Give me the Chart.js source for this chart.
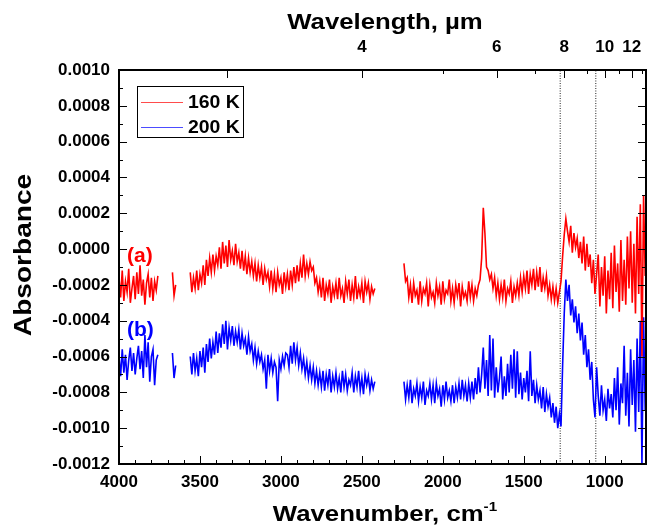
<!DOCTYPE html>
<html>
<head>
<meta charset="utf-8">
<script src="https://cdn.jsdelivr.net/npm/chart.js@4.4.1/dist/chart.umd.min.js"></script>
<style>
  html, body { margin: 0; padding: 0; background: #fff; }
  canvas { display: block; }
</style>
</head>
<body>
<canvas id="spectra" width="657" height="527"></canvas>
<script>
// wavenumber grid, cm-1: 4000 down to 750, one point every 10 (null = no data)
const waveStart = 4000;
const waveStep = 10;

// absorbance at 160 K, trace (a)
const abs160K = [
  // 4000 - 3760
  -1.6e-4, -2.7e-4, -1.2e-4, -2.9e-4, -1.8e-4, -2.4e-4, -1.1e-4, -3.0e-4, -2.2e-4, -1.5e-4,
  -2.8e-4, -1.3e-4, -2.5e-4, -0.9e-4, -2.6e-4, -1.7e-4, -3.1e-4, -1.9e-4, -1.4e-4, -2.7e-4,
  -1.6e-4, -2.9e-4, -1.8e-4, -2.3e-4, -1.5e-4,
  // 3750 - 3680
  null, null, null, null, null, null, null, null,
  // 3670 - 3650
  -1.3e-4, -2.6e-4, -2.0e-4,
  // 3640 - 3570
  null, null, null, null, null, null, null, null,
  // 3560 - 2420
  -1.3e-4, -2.4e-4, -1.6e-4, -2.2e-4, -1.2e-4, -2.3e-4, -1.4e-4, -1.9e-4, -0.9e-4, -2.0e-4,
  -0.6e-4, -1.5e-4, -0.5e-4, -1.3e-4, -0.3e-4, -1.2e-4, -0.4e-4, -0.9e-4, 0.1e-4, -1.1e-4,
  0.4e-4, -0.8e-4, 0.2e-4, -1.0e-4, 0.5e-4, -0.6e-4, -0.1e-4, -0.9e-4, 0.3e-4, -0.7e-4,
  -0.2e-4, -1.1e-4, -0.1e-4, -1.2e-4, -0.4e-4, -1.4e-4, -0.5e-4, -1.3e-4, -0.7e-4, -1.5e-4,
  -0.8e-4, -1.8e-4, -0.9e-4, -1.6e-4, -1.0e-4, -2.0e-4, -1.1e-4, -1.7e-4, -1.3e-4, -2.1e-4,
  -1.2e-4, -2.2e-4, -1.4e-4, -2.4e-4, -1.3e-4, -2.0e-4, -1.6e-4, -2.5e-4, -1.3e-4, -2.1e-4,
  -1.4e-4, -2.3e-4, -1.2e-4, -2.0e-4, -1.0e-4, -1.9e-4, -0.9e-4, -1.8e-4, -0.8e-4, -1.6e-4,
  -0.3e-4, -1.5e-4, -0.8e-4, -1.4e-4, -0.7e-4, -1.2e-4, -1.0e-4, -1.9e-4, -1.6e-4, -2.4e-4,
  -1.8e-4, -2.7e-4, -1.6e-4, -2.9e-4, -2.0e-4, -2.5e-4, -1.7e-4, -3.0e-4, -2.1e-4, -2.6e-4,
  -1.9e-4, -2.8e-4, -1.6e-4, -2.6e-4, -2.2e-4, -3.0e-4, -1.8e-4, -2.5e-4, -1.7e-4, -2.9e-4,
  -2.0e-4, -2.7e-4, -1.5e-4, -2.8e-4, -2.1e-4, -2.6e-4, -1.9e-4, -3.0e-4, -1.8e-4, -2.4e-4,
  -1.9e-4, -2.8e-4, -2.1e-4, -2.5e-4, -2.2e-4,
  // 2410 - 2250
  null, null, null, null, null, null, null, null, null, null,
  null, null, null, null, null, null, null,
  // 2240 - 750
  -0.8e-4, -1.8e-4, -1.6e-4, -2.7e-4, -2.0e-4, -3.0e-4, -1.9e-4, -2.6e-4, -2.3e-4, -3.1e-4,
  -1.8e-4, -2.9e-4, -2.2e-4, -2.5e-4, -1.9e-4, -3.2e-4, -2.0e-4, -2.7e-4, -2.4e-4, -3.0e-4,
  -1.9e-4, -2.6e-4, -2.1e-4, -3.1e-4, -1.8e-4, -2.8e-4, -2.3e-4, -2.5e-4, -1.7e-4, -2.9e-4,
  -2.2e-4, -3.0e-4, -2.0e-4, -2.6e-4, -1.9e-4, -3.2e-4, -2.1e-4, -2.7e-4, -2.4e-4, -2.9e-4,
  -1.8e-4, -2.7e-4, -2.0e-4, -2.9e-4, -2.2e-4, -2.6e-4, -2.0e-4, -1.7e-4, -0.5e-4, 2.3e-4,
  0.9e-4, -1.0e-4, -1.2e-4, -1.7e-4, -1.4e-4, -2.2e-4, -1.6e-4, -2.6e-4, -1.9e-4, -2.8e-4,
  -2.0e-4, -2.7e-4, -1.7e-4, -2.9e-4, -2.2e-4, -2.5e-4, -1.8e-4, -3.0e-4, -2.1e-4, -2.6e-4,
  -1.9e-4, -2.6e-4, -1.6e-4, -2.4e-4, -1.5e-4, -2.2e-4, -1.2e-4, -2.5e-4, -1.4e-4, -2.0e-4,
  -1.1e-4, -2.3e-4, -1.3e-4, -2.1e-4, -1.0e-4, -2.4e-4, -1.6e-4, -2.2e-4, -1.5e-4, -2.6e-4,
  -2.0e-4, -2.8e-4, -2.1e-4, -2.9e-4, -2.2e-4, -3.0e-4, -2.4e-4, -1.8e-4, -0.4e-4, 0.8e-4,
  1.7e-4, 1.0e-4, 0.4e-4, 1.3e-4, -0.2e-4, 0.9e-4, 0.1e-4, 0.6e-4, -0.5e-4, 0.4e-4,
  -0.8e-4, 0.7e-4, -1.2e-4, 0.3e-4, -1.0e-4, -0.3e-4, -1.9e-4, -0.6e-4, -2.5e-4, -1.4e-4,
  -0.3e-4, -3.2e-4, -1.0e-4, -2.6e-4, -0.4e-4, -3.6e-4, -1.2e-4, -2.8e-4, -0.2e-4, -3.3e-4,
  0.2e-4, -2.4e-4, -0.8e-4, -3.5e-4, 0.5e-4, -2.9e-4, -0.6e-4, -3.1e-4, 0.7e-4, -2.2e-4,
  1.0e-4, -3.0e-4, 0.3e-4, -3.6e-4, 1.8e-4, -2.5e-4, 2.5e-4, -6.0e-4, 3.0e-4, -1.5e-4
];

// absorbance at 200 K, trace (b)
const abs200K = [
  // 4000 - 3760
  -6.0e-4, -7.1e-4, -5.6e-4, -6.9e-4, -5.9e-4, -7.3e-4, -6.2e-4, -5.5e-4, -6.8e-4, -5.8e-4,
  -7.0e-4, -6.1e-4, -5.4e-4, -6.7e-4, -5.7e-4, -7.2e-4, -4.8e-4, -6.6e-4, -5.2e-4, -7.4e-4,
  -6.0e-4, -5.6e-4, -7.6e-4, -6.2e-4, -5.9e-4,
  // 3750 - 3680
  null, null, null, null, null, null, null, null,
  // 3670 - 3650
  -5.8e-4, -7.2e-4, -6.5e-4,
  // 3640 - 3570
  null, null, null, null, null, null, null, null,
  // 3560 - 2420
  -6.0e-4, -7.0e-4, -5.8e-4, -6.8e-4, -6.1e-4, -7.1e-4, -5.7e-4, -6.6e-4, -5.5e-4, -6.9e-4,
  -5.3e-4, -6.3e-4, -5.0e-4, -6.1e-4, -5.2e-4, -5.9e-4, -4.6e-4, -5.8e-4, -4.7e-4, -5.5e-4,
  -4.2e-4, -5.3e-4, -4.0e-4, -5.6e-4, -4.4e-4, -5.1e-4, -4.3e-4, -5.4e-4, -4.6e-4, -5.2e-4,
  -4.5e-4, -5.6e-4, -4.7e-4, -5.4e-4, -5.0e-4, -5.9e-4, -4.9e-4, -5.7e-4, -5.3e-4, -6.2e-4,
  -5.5e-4, -6.4e-4, -5.7e-4, -6.3e-4, -5.9e-4, -6.7e-4, -6.2e-4, -7.8e-4, -5.9e-4, -6.8e-4,
  -6.1e-4, -6.9e-4, -6.3e-4, -6.6e-4, -8.5e-4, -6.2e-4, -6.7e-4, -6.0e-4, -6.5e-4, -5.8e-4,
  -5.9e-4, -6.6e-4, -5.4e-4, -6.4e-4, -5.2e-4, -6.2e-4, -5.5e-4, -6.5e-4, -5.8e-4, -6.7e-4,
  -6.1e-4, -7.0e-4, -6.3e-4, -7.2e-4, -6.5e-4, -7.3e-4, -6.6e-4, -7.5e-4, -6.8e-4, -7.6e-4,
  -6.9e-4, -7.7e-4, -6.8e-4, -7.9e-4, -7.0e-4, -7.6e-4, -6.7e-4, -8.0e-4, -7.1e-4, -7.7e-4,
  -6.9e-4, -7.8e-4, -7.2e-4, -8.0e-4, -6.8e-4, -7.7e-4, -7.0e-4, -7.9e-4, -7.3e-4, -7.6e-4,
  -6.9e-4, -8.0e-4, -7.1e-4, -7.7e-4, -6.8e-4, -7.9e-4, -7.2e-4, -8.1e-4, -7.0e-4, -7.6e-4,
  -7.1e-4, -7.9e-4, -7.3e-4, -7.8e-4, -7.4e-4,
  // 2410 - 2250
  null, null, null, null, null, null, null, null, null, null,
  null, null, null, null, null, null, null,
  // 2240 - 750
  -7.4e-4, -8.4e-4, -7.6e-4, -8.3e-4, -7.3e-4, -8.6e-4, -7.8e-4, -8.2e-4, -7.5e-4, -8.5e-4,
  -7.7e-4, -8.3e-4, -7.4e-4, -8.7e-4, -7.9e-4, -8.2e-4, -7.5e-4, -8.4e-4, -7.6e-4, -8.6e-4,
  -7.5e-4, -8.2e-4, -7.8e-4, -8.8e-4, -7.6e-4, -8.4e-4, -7.4e-4, -8.3e-4, -7.9e-4, -8.5e-4,
  -7.6e-4, -8.6e-4, -7.7e-4, -8.3e-4, -7.5e-4, -8.4e-4, -7.3e-4, -8.2e-4, -7.6e-4, -8.5e-4,
  -7.5e-4, -8.3e-4, -7.4e-4, -8.4e-4, -7.2e-4, -8.1e-4, -6.6e-4, -8.0e-4, -7.0e-4, -5.5e-4,
  -7.8e-4, -6.2e-4, -8.2e-4, -4.8e-4, -7.9e-4, -5.0e-4, -8.3e-4, -6.6e-4, -8.0e-4, -7.2e-4,
  -6.0e-4, -8.4e-4, -7.1e-4, -8.2e-4, -6.4e-4, -8.0e-4, -5.9e-4, -7.8e-4, -5.6e-4, -8.3e-4,
  -5.7e-4, -8.1e-4, -6.9e-4, -8.4e-4, -7.2e-4, -8.0e-4, -6.8e-4, -8.5e-4, -5.7e-4, -8.2e-4,
  -7.3e-4, -8.6e-4, -7.6e-4, -8.4e-4, -7.9e-4, -8.9e-4, -7.7e-4, -9.1e-4, -8.1e-4, -8.8e-4,
  -8.3e-4, -9.4e-4, -8.6e-4, -9.7e-4, -8.8e-4, -10.0e-4, -9.2e-4, -9.9e-4, -6.5e-4, -3.6e-4,
  -1.7e-4, -2.9e-4, -2.0e-4, -3.7e-4, -2.8e-4, -4.1e-4, -3.2e-4, -4.7e-4, -3.6e-4, -5.1e-4,
  -4.1e-4, -5.9e-4, -4.8e-4, -6.6e-4, -5.6e-4, -7.3e-4, -6.3e-4, -8.4e-4, -9.4e-4, -6.6e-4,
  -8.2e-4, -9.3e-4, -7.6e-4, -9.0e-4, -8.4e-4, -9.6e-4, -7.8e-4, -8.9e-4, -8.1e-4, -9.4e-4,
  -7.2e-4, -9.0e-4, -6.6e-4, -9.8e-4, -7.5e-4, -8.6e-4, -5.4e-4, -9.3e-4, -6.9e-4, -9.9e-4,
  -5.6e-4, -8.7e-4, -6.2e-4, -10.2e-4, -5.0e-4, -9.1e-4, -4.0e-4, -12.0e-4, -3.8e-4, -9.0e-4
];

const seriesNames = ['160 K', '200 K'];
const seriesColors = ['#ff0000', '#0000ff'];
const traceTags = ['(a)', '(b)'];
const markerWavenumbers = [1275, 1055];          // dotted vertical lines
const wavelengthTicks = [3, 4, 5, 6, 7, 8, 9, 10, 11, 12, 13];  // um, top axis
const wavelengthLabels = [4, 6, 8, 10, 12];

const FONT = '"Liberation Sans", Arial, sans-serif';

function toPoints(values) {
  return values.map((v, i) => ({ x: waveStart - i * waveStep, y: v }));
}

const datasets = [abs160K, abs200K].map((vals, k) => ({
  label: seriesNames[k],
  data: toPoints(vals),
  borderColor: seriesColors[k],
  borderWidth: 1.6,
  pointRadius: 0,
  tension: 0,
  spanGaps: false
}));

markerWavenumbers.forEach(w => {
  datasets.push({
    label: '',
    data: [{ x: w, y: -0.0012 }, { x: w, y: 0.0010 }],
    borderColor: '#222',
    borderWidth: 1,
    borderDash: [1, 1.5],
    pointRadius: 0
  });
});

// text drawn a bit wider than the font, like the original figure
function wideText(ctx, text, x, y, sx) {
  ctx.save();
  ctx.translate(x, y);
  ctx.scale(sx, 1);
  ctx.fillText(text, 0, 0);
  ctx.restore();
}

// inward ticks, frame, legend, titles
const decor = {
  id: 'decor',
  afterDraw(chart) {
    const { ctx, chartArea: a, scales } = chart;
    ctx.save();
    ctx.strokeStyle = '#000';
    ctx.lineWidth = 1;
    ctx.beginPath();
    scales.x.ticks.forEach(t => {
      if (t.value % 100 !== 0) return;
      const px = Math.round(scales.x.getPixelForValue(t.value)) + 0.5;
      const len = t.value % 500 === 0 ? 8 : 4;
      ctx.moveTo(px, a.bottom); ctx.lineTo(px, a.bottom - len);
    });
    scales.x2.ticks.forEach(t => {
      const l = Math.round(10000 / t.value);
      const px = Math.round(scales.x2.getPixelForValue(t.value)) + 0.5;
      const len = (wavelengthLabels.includes(l) || l === 3) ? 8 : 4;
      ctx.moveTo(px, a.top); ctx.lineTo(px, a.top + len);
    });
    const yt = scales.y.ticks.map(t => t.value);
    yt.forEach((v, i) => {
      const py = Math.round(scales.y.getPixelForValue(v)) + 0.5;
      ctx.moveTo(a.left, py); ctx.lineTo(a.left + 8, py);
      ctx.moveTo(a.right, py); ctx.lineTo(a.right - 8, py);
      if (i < yt.length - 1) {
        const pm = Math.round(scales.y.getPixelForValue((v + yt[i + 1]) / 2)) + 0.5;
        ctx.moveTo(a.left, pm); ctx.lineTo(a.left + 4, pm);
        ctx.moveTo(a.right, pm); ctx.lineTo(a.right - 4, pm);
      }
    });
    ctx.stroke();

    ctx.lineWidth = 2;
    ctx.strokeRect(a.left, a.top, a.right - a.left, a.bottom - a.top);

    // legend
    ctx.lineWidth = 1;
    ctx.strokeRect(137.5, 86.5, 106, 51);
    ctx.font = 'bold 18px ' + FONT;
    ctx.textBaseline = 'middle';
    ctx.textAlign = 'left';
    seriesNames.forEach((name, k) => {
      const y = 102 + k * 25;
      ctx.strokeStyle = seriesColors[k];
      ctx.globalAlpha = 0.7;
      ctx.beginPath(); ctx.moveTo(141, y + 0.5); ctx.lineTo(183, y + 0.5); ctx.stroke();
      ctx.globalAlpha = 1;
      ctx.fillStyle = '#000';
      wideText(ctx, name, 188, y + 1, 1.08);
    });

    // trace tags
    ctx.font = 'bold 21px ' + FONT;
    traceTags.forEach((tag, k) => {
      ctx.fillStyle = seriesColors[k];
      ctx.fillText(tag, 127, k === 0 ? 256 : 330);
    });

    // axis titles
    const sx = 1.17;
    ctx.fillStyle = '#000';
    ctx.textBaseline = 'alphabetic';
    ctx.textAlign = 'left';
    ctx.font = 'bold 22px ' + FONT;
    const top = 'Wavelength, \u00b5m';
    const topW = ctx.measureText(top).width * sx;
    wideText(ctx, top, 385 - topW / 2, 29, sx);

    const main = 'Wavenumber, cm';
    const mainW = ctx.measureText(main).width * sx;
    ctx.font = 'bold 13px ' + FONT;
    const supW = ctx.measureText('-1').width * sx;
    const x0 = 385 - (mainW + supW) / 2;
    ctx.font = 'bold 22px ' + FONT;
    wideText(ctx, main, x0, 521, sx);
    ctx.font = 'bold 13px ' + FONT;
    wideText(ctx, '-1', x0 + mainW, 511, sx);

    ctx.translate(24, 255);
    ctx.rotate(-Math.PI / 2);
    ctx.textAlign = 'center';
    ctx.textBaseline = 'middle';
    ctx.font = 'bold 24px ' + FONT;
    wideText(ctx, 'Absorbance', 0, 0, sx);
    ctx.restore();
  }
};

const tickFont = { family: FONT, size: 17, weight: 'bold' };

new Chart(document.getElementById('spectra'), {
  type: 'line',
  data: { datasets },
  options: {
    responsive: false,
    animation: false,
    layout: { padding: { left: 0, right: 11, top: 0, bottom: 0 } },
    plugins: { legend: { display: false }, tooltip: { enabled: false } },
    scales: {
      x: {
        type: 'linear', position: 'bottom', reverse: true,
        min: 745, max: 4000,
        grid: { display: false, drawTicks: false },
        border: { display: false },
        ticks: {
          stepSize: 100, autoSkip: false, maxRotation: 0, padding: 8,
          color: '#000', font: tickFont,
          callback: v => (v % 500 === 0 ? String(v) : '')
        },
        afterFit: s => { s.height = 63; }
      },
      x2: {
        type: 'linear', position: 'top', reverse: true,
        min: 745, max: 4000,
        grid: { display: false, drawTicks: false },
        border: { display: false },
        afterBuildTicks: s => { s.ticks = wavelengthTicks.map(l => ({ value: 10000 / l })); },
        ticks: {
          autoSkip: false, maxRotation: 0, padding: 12,
          color: '#000', font: tickFont,
          callback: v => {
            const l = Math.round(10000 / v);
            return wavelengthLabels.includes(l) ? String(l) : '';
          }
        },
        afterFit: s => { s.height = 70; }
      },
      y: {
        type: 'linear', position: 'left',
        min: -0.0012, max: 0.0010,
        grid: { display: false, drawTicks: false },
        border: { display: false },
        ticks: {
          stepSize: 0.0002, padding: 9,
          color: '#000', font: tickFont,
          callback: v => v.toFixed(4)
        },
        afterFit: s => { s.width = 119; }
      }
    }
  },
  plugins: [decor]
});
</script>
</body>
</html>
